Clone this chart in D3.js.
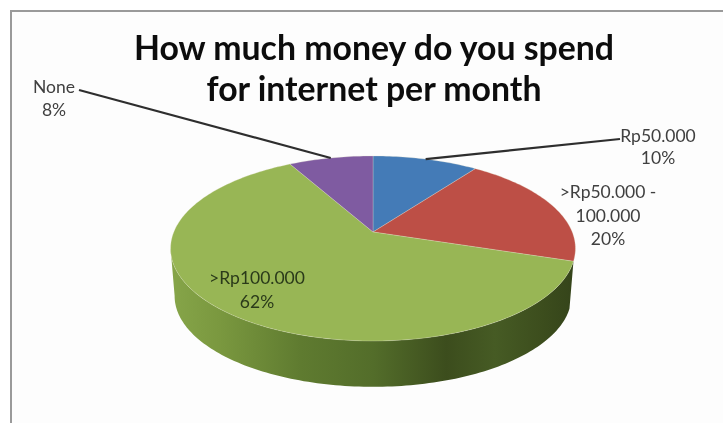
<!DOCTYPE html>
<html><head><meta charset="utf-8">
<script src="https://cdnjs.cloudflare.com/ajax/libs/d3/7.8.5/d3.min.js"></script>
<style>html,body{margin:0;padding:0;background:#fff;overflow:hidden}svg{display:block;filter:blur(0.7px)}</style>
</head><body><svg id="c" width="723" height="423"></svg>
<script>
const categories = ["Rp50.000", ">Rp50.000 - 100.000", ">Rp100.000", "None"];
const values = [10, 20, 62, 8];
const percentLabels = ["10%", "20%", "62%", "8%"];
const titleLines = ["How much money do you spend", "for internet per month"];
const sliceColors = ["#447bb7", "#bd4f46", "#98b655", "#7f5ba1"];

const svg = d3.select("#c");
const defs = svg.append("defs");
const grad = defs.append("linearGradient").attr("id","wall")
  .attr("gradientUnits","userSpaceOnUse").attr("x1",171).attr("x2",576).attr("y1",0).attr("y2",0);
[[0,"#86a549"],[0.12,"#7a983f"],[0.32,"#5f7b30"],[0.5,"#536d2a"],[0.68,"#3c4d1d"],[0.8,"#465b24"],[0.92,"#3c4d1d"],[1,"#34431a"]]
  .forEach(([o,c])=>grad.append("stop").attr("offset",o).attr("stop-color",c));

// frame
const root = svg.append("g");
root.append("rect").attr("x",11).attr("y",11).attr("width",730).attr("height",430)
  .attr("fill","#fdfdfd").attr("stroke","#9a9a9a").attr("stroke-width",2);

// perspective projection of the pie disc
const cx = 373, cy = 232, bx = 199.2, by = 89.6, k = -0.178;
const project = (a, s=1, oy=0) => {
  const u = Math.sin(a), v = -Math.cos(a), d = 1 + k*v;
  return [cx + s*bx*u/d, cy + oy + s*by*v/d];
};
const line = d3.line();
const arcPts = (a0, a1, s, oy) => {
  const n = Math.max(2, Math.ceil(Math.abs(a1-a0)/0.02));
  return d3.range(n+1).map(i => project(a0+(a1-a0)*i/n, s, oy));
};
const arcs = d3.pie().sort(null).value(d=>d)(values);

// side wall, under the green slice
const green = arcs[2];
const wallEnd = Math.PI*1.444;
const wall = arcPts(green.startAngle, wallEnd, 1, 0)
  .concat(arcPts(wallEnd, green.startAngle, 0.98, 48));
root.append("path").attr("d", line(wall)+"Z").attr("fill","url(#wall)");

// top face
root.selectAll("path.slice").data(arcs).join("path").attr("class","slice")
  .attr("d", d => line([[cx,cy]].concat(arcPts(d.startAngle,d.endAngle,1,0)))+"Z")
  .attr("fill",(d,i)=>sliceColors[i])
  .attr("stroke","#e8e4d0").attr("stroke-opacity",0.35).attr("stroke-width",0.8);

// leader lines, from the label to the middle of the slice rim
const mid = d => (d.startAngle+d.endAngle)/2;
const leaders = [{i:3, from:[79,90]}, {i:0, from:[620,139]}];
root.selectAll("path.leader").data(leaders).join("path").attr("class","leader")
  .attr("d", d => line([d.from, project(mid(arcs[d.i]))]))
  .attr("fill","none").attr("stroke","#2e2e2e").attr("stroke-width",2.2);

// labels
const labelFont = "Lato, Carlito, sans-serif";
const labelLayout = [
  {i:0, x:658, y:142, lines:["Rp50.000"], dy:22, fill:"#404040"},
  {i:1, x:608, y:198, lines:[">Rp50.000 -","100.000"], dy:23.5, fill:"#404040"},
  {i:2, x:257, y:284, lines:[">Rp100.000"], dy:24, fill:"#2a3a1a"},
  {i:3, x:54, y:93, lines:["None"], dy:23, fill:"#404040"}
];
labelLayout.forEach(l=>{
  const all = l.lines.concat([percentLabels[l.i]]);
  root.append("text").attr("font-family",labelFont).attr("font-size",17.5).attr("text-anchor","middle").attr("fill",l.fill)
    .selectAll("tspan").data(all).join("tspan").attr("x",l.x).attr("y",(d,j)=>l.y+j*l.dy).text(d=>d);
});

// title
root.append("text").attr("font-family",labelFont).attr("font-weight",700).attr("font-size",33.8)
  .attr("text-anchor","middle").attr("fill","#0c0c0c")
  .selectAll("tspan").data(titleLines).join("tspan").attr("x",374).attr("y",(d,i)=>60+i*41).text(d=>d);
</script></body></html>
